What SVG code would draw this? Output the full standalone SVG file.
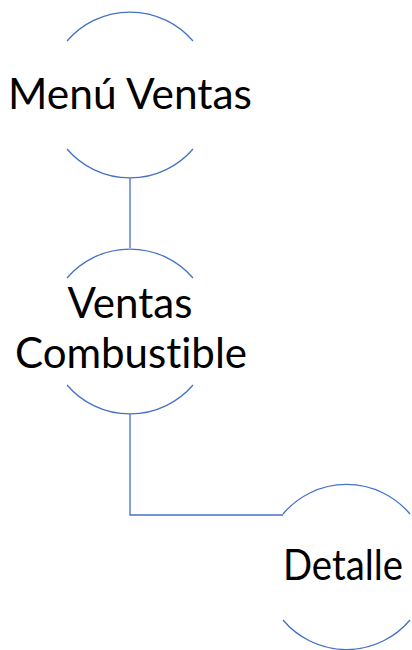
<svg xmlns="http://www.w3.org/2000/svg" width="412" height="650" viewBox="0 0 412 650">
<style>
.arc{fill:none;stroke:#4472C4;stroke-width:1.3}
.con{fill:none;stroke:#4472C4;stroke-width:1.3}
.lbl{font-family:Lato,"Open Sans","Liberation Sans",sans-serif;font-size:42px;fill:#000;text-anchor:middle;font-variant-ligatures:none}
</style>
<rect width="412" height="650" fill="#fff"/>
<g id="connectors">
<path class="con" d="M130 178 V248"/>
<path class="con" d="M130 414 V515 H283"/>
</g>
<g id="menu-ventas">
<path class="arc" d="M67 41 A83 83 0 0 1 193 41"/>
<path class="arc" d="M67 149 A83 83 0 0 0 193 149"/>
<text class="lbl" x="130" y="109" textLength="244" lengthAdjust="spacingAndGlyphs">Menú Ventas</text>
</g>
<g id="ventas-combustible">
<path class="arc" d="M67 278 A83 83 0 0 1 193 278"/>
<path class="arc" d="M67 385 A83 83 0 0 0 193 385"/>
<text class="lbl" x="130" y="318" textLength="125" lengthAdjust="spacingAndGlyphs">Ventas</text>
<text class="lbl" x="131" y="368" textLength="232" lengthAdjust="spacingAndGlyphs">Combustible</text>
</g>
<g id="detalle">
<path class="arc" d="M283 514 A83 83 0 0 1 410 514"/>
<path class="arc" d="M283 620 A83 83 0 0 0 410 620"/>
<text class="lbl" x="343" y="580" font-size="40" textLength="120" lengthAdjust="spacingAndGlyphs">Detalle</text>
</g>
</svg>
